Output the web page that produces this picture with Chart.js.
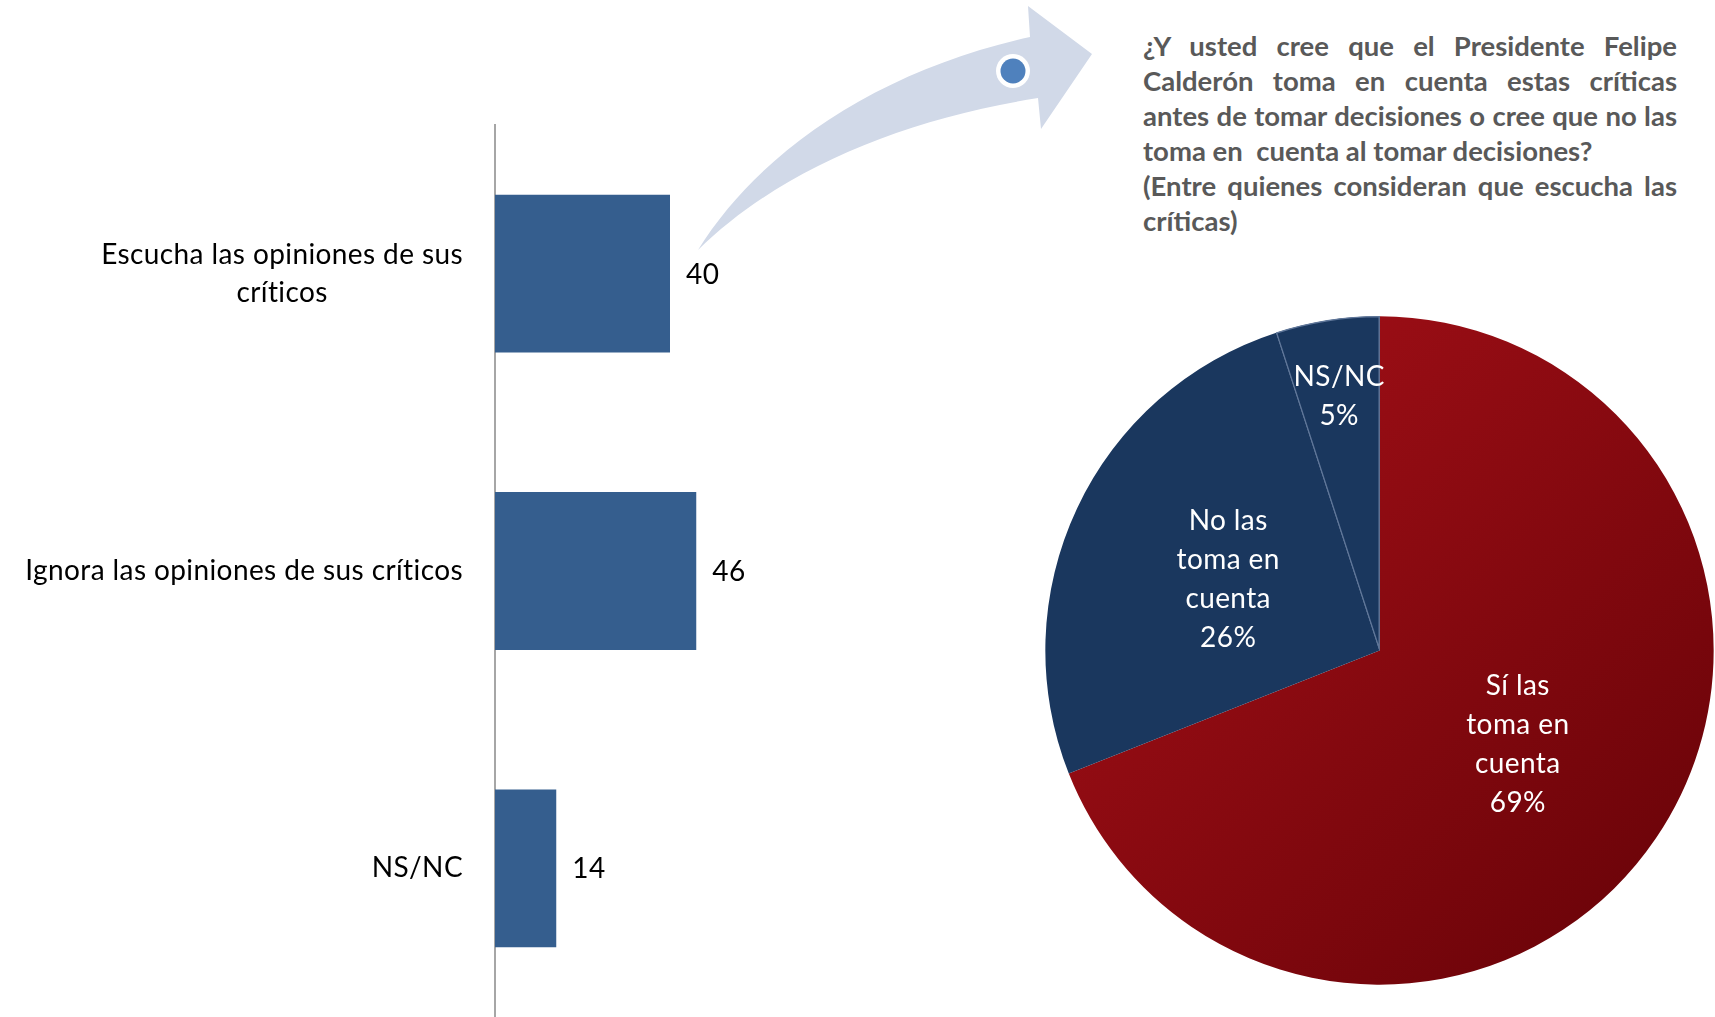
<!DOCTYPE html>
<html>
<head>
<meta charset="utf-8">
<script src="https://cdn.jsdelivr.net/npm/chart.js@4.4.1/dist/chart.umd.min.js"></script>
<style>
    body { margin: 0; background: #ffffff; width: 1715px; height: 1017px; overflow: hidden; position: relative; font-family: Lato, sans-serif; }
    #bar-canvas { position: absolute; left: 0; top: 0; }
    #pie-canvas { position: absolute; left: 1045px; top: 316px; }
    #arrow { position: absolute; left: 0; top: 0; }
    #question { position: absolute; left: 1143px; top: 28px; width: 534px; color: #595959; font-weight: bold; font-size: 27.5px; line-height: 35px; }
    #question div { text-align: justify; text-align-last: justify; white-space: nowrap; }
    #question div.last { text-align-last: left; }
</style>
</head>
<body>
<svg id="arrow" width="1715" height="300">
    <path d="M 698 250 C 760 150 880 70 1030 37 L 1028 6 L 1092 54 L 1041 129 L 1038 98 C 900 120 780 170 698 250 Z" fill="#D1D9E8"/>
    <circle cx="1013" cy="71" r="17" fill="#ffffff"/>
    <circle cx="1013" cy="71" r="12.5" fill="#4F81BD"/>
</svg>
<canvas id="bar-canvas" width="800" height="1017"></canvas>
<canvas id="pie-canvas" width="669" height="669"></canvas>
<div id="question">
    <div>¿Y usted cree que el Presidente Felipe</div>
    <div>Calderón toma en cuenta estas críticas</div>
    <div>antes de tomar decisiones o cree que no las</div>
    <div class="last">toma en&nbsp; cuenta al tomar decisiones?</div>
    <div>(Entre quienes consideran que escucha las</div>
    <div class="last">críticas)</div>
</div>
<script>
var bar_labels = [["Escucha las opiniones de sus", "críticos"], ["Ignora las opiniones de sus críticos"], ["NS/NC"]];
var bar_values = [40, 46, 14];
var pie_labels = [["Sí las", "toma en", "cuenta"], ["No las", "toma en", "cuenta"], ["NS/NC"]];
var pie_values = [69, 26, 5];

var label_font = "28px Lato";

// category labels + value labels for the bars, drawn like Excel (centered lines, block right aligned)
var bar_text_plugin = {
    id: "barText",
    afterDatasetsDraw: function (chart) {
        let ctx = chart.ctx;
        let meta = chart.getDatasetMeta(0);
        let y_scale = chart.scales.y;
        ctx.save();
        ctx.font = label_font;
        ctx.letterSpacing = "0.4px";
        ctx.fillStyle = "#000000";
        ctx.textBaseline = "middle";
        for (let i = 0; i < bar_labels.length; i++) {
            let lines = bar_labels[i];
            let cy = y_scale.getPixelForValue(i);
            let widest = 0;
            lines.forEach((l) => { widest = Math.max(widest, ctx.measureText(l).width); });
            let cx = chart.chartArea.left - 32 - widest / 2;
            let lh = 38;
            ctx.textAlign = "center";
            for (let j = 0; j < lines.length; j++) {
                ctx.fillText(lines[j], cx, cy + (j - (lines.length - 1) / 2) * lh);
            }
            let bar = meta.data[i];
            ctx.textAlign = "left";
            ctx.fillText(String(bar_values[i]), bar.x + 16, bar.y + 1);
        }
        ctx.restore();
    }
};

new Chart(document.getElementById("bar-canvas"), {
    type: "bar",
    data: {
        labels: bar_labels,
        datasets: [{
            data: bar_values,
            backgroundColor: "#355E8E",
            borderWidth: 0,
            categoryPercentage: 1,
            barPercentage: 0.531
        }]
    },
    options: {
        indexAxis: "y",
        responsive: false,
        animation: false,
        devicePixelRatio: 1,
        layout: { padding: { left: 495, right: 42.5, top: 125, bottom: 0 } },
        scales: {
            x: { display: false, min: 0, max: 60 },
            y: {
                ticks: { display: false },
                grid: { display: false, drawTicks: false },
                border: { display: true, color: "#A6A6A6", width: 2 }
            }
        },
        plugins: { legend: { display: false }, tooltip: { enabled: false } }
    },
    plugins: [bar_text_plugin]
});

var label_radius = [0.5, 0.5, 0.77];

var pie_text_plugin = {
    id: "pieText",
    afterDatasetsDraw: function (chart) {
        let ctx = chart.ctx;
        let meta = chart.getDatasetMeta(0);
        let total = pie_values.reduce((a, b) => a + b, 0);
        ctx.save();
        ctx.font = label_font;
        ctx.letterSpacing = "0.4px";
        ctx.fillStyle = "#ffffff";
        ctx.textAlign = "center";
        ctx.textBaseline = "middle";
        meta.data.forEach((arc, i) => {
            let mid = (arc.startAngle + arc.endAngle) / 2;
            let r = arc.outerRadius * label_radius[i];
            let x = arc.x + Math.cos(mid) * r;
            let y = arc.y + Math.sin(mid) * r;
            let lines = pie_labels[i].concat([Math.round(pie_values[i] / total * 100) + "%"]);
            let lh = 39;
            for (let j = 0; j < lines.length; j++) {
                ctx.fillText(lines[j], x, y + (j - (lines.length - 1) / 2) * lh);
            }
        });
        ctx.restore();
    }
};

function slice_fill(context) {
    if (context.dataIndex !== 0) return "#1A375E";
    let chart = context.chart;
    let area = chart.chartArea;
    if (!area) return "#8E0A12";
    let g = chart.ctx.createLinearGradient(area.left, area.top, area.right, area.bottom);
    g.addColorStop(0, "#AA1119");
    g.addColorStop(1, "#650207");
    return g;
}

new Chart(document.getElementById("pie-canvas"), {
    type: "pie",
    data: {
        labels: pie_labels,
        datasets: [{
            data: pie_values,
            backgroundColor: slice_fill,
            borderColor: ["#1A375E", "#1A375E", "#5F7699"],
            borderWidth: [0, 0, 1],
            borderAlign: "inner"
        }]
    },
    options: {
        responsive: false,
        animation: false,
        devicePixelRatio: 1,
        layout: { padding: 0 },
        plugins: { legend: { display: false }, tooltip: { enabled: false } }
    },
    plugins: [pie_text_plugin]
});
</script>
</body>
</html>
